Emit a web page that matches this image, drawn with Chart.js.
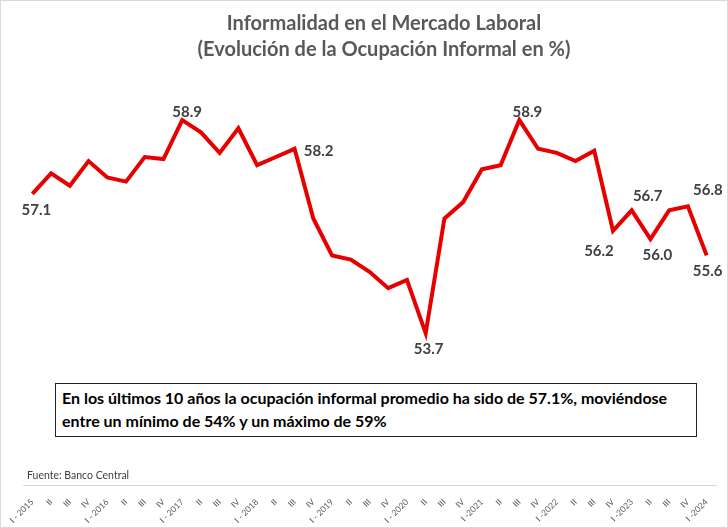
<!DOCTYPE html>
<html>
<head>
<meta charset="utf-8">
<script src="https://cdn.jsdelivr.net/npm/chart.js@4.4.1/dist/chart.umd.min.js"></script>
<style>
  html, body { margin: 0; padding: 0; background: #fff; }
  #wrap { position: relative; width: 728px; height: 528px; }
  canvas { position: absolute; left: 0; top: 0; }
  #title {
    position: absolute; left: 0; top: 9px; width: 768px; text-align: center;
    font-family: Lato, "Open Sans", sans-serif; font-weight: bold; font-size: 20px;
    color: #595959; line-height: 26px;
  }
  #note {
    position: absolute; left: 55px; top: 383px; width: 642px; height: 54px;
    box-sizing: border-box; border: 1px solid #222; background: #fff;
    font-family: Lato, "Open Sans", sans-serif; font-weight: bold; font-size: 16px;
    color: #000; padding: 2px 0 0 6px; line-height: 23px; white-space: nowrap;
  }
  #src {
    position: absolute; left: 27px; top: 469px;
    font-family: Lato, "Open Sans", sans-serif; font-size: 10.5px; color: #404040;
  }
</style>
</head>
<body>
<div id="wrap">
  <canvas id="c" width="728" height="528"></canvas>
  <div id="title">Informalidad en el Mercado Laboral<br>(Evolución de la Ocupación Informal en %)</div>
  <div id="note">En los últimos 10 años la ocupación informal promedio ha sido de 57.1%, moviéndose<br>entre un mínimo de 54% y un máximo de 59%</div>
  <div id="src">Fuente: Banco Central</div>
</div>
<script>
// ---- Data ----
const quarters = [
  "I - 2015","II","III","IV",
  "I - 2016","II","III","IV",
  "I - 2017","II","III","IV",
  "I - 2018","II","III","IV",
  "I - 2019","II","III","IV",
  "I - 2020","II","III","IV",
  "I -2021","II","III","IV",
  "I -2022","II","III","IV",
  "I -2023","II","III","IV",
  "I -2024"
];
const informalidad = [
  57.1, 57.6, 57.3, 57.9,
  57.5, 57.4, 58.0, 57.95,
  58.9, 58.6, 58.1, 58.7,
  57.8, 58.0, 58.2, 56.5,
  55.6, 55.5, 55.2, 54.8,
  55.0, 53.7, 56.5, 56.9,
  57.7, 57.8, 58.9, 58.2,
  58.1, 57.9, 58.15, 56.2,
  56.7, 56.0, 56.7, 56.8,
  55.6
];
const labeledPoints = [0, 8, 14, 21, 26, 31, 32, 33, 35, 36];

// label placement (pixel offsets from point), style only
const labelOffsets = {
  0: [4, 16], 8: [5, -8], 14: [24, 2], 21: [3, 16], 26: [8, -8],
  31: [-14, 20], 32: [16, -14], 33: [7, 16], 35: [20, -16], 36: [1, 16]
};

const framePlugin = {
  id: 'frame',
  beforeDraw(chart) {
    const ctx = chart.ctx;
    ctx.save();
    ctx.fillStyle = '#fff';
    ctx.fillRect(0, 0, chart.width, chart.height);
    ctx.strokeStyle = '#d9d9d9';
    ctx.lineWidth = 1;
    ctx.strokeRect(0.5, 0.5, chart.width - 1, chart.height - 1);
    ctx.restore();
  }
};

const valueLabels = {
  id: 'valueLabels',
  afterDatasetsDraw(chart) {
    const ctx = chart.ctx;
    const meta = chart.getDatasetMeta(0);
    ctx.save();
    ctx.font = 'bold 15px Lato, "Open Sans", sans-serif';
    ctx.fillStyle = '#404040';
    ctx.textAlign = 'center';
    ctx.textBaseline = 'middle';
    labeledPoints.forEach(i => {
      const p = meta.data[i];
      const off = labelOffsets[i] || [0, -12];
      ctx.fillText(informalidad[i].toFixed(1), p.x + off[0], p.y + off[1]);
    });
    ctx.restore();
  }
};

new Chart(document.getElementById('c'), {
  type: 'line',
  data: {
    labels: quarters,
    datasets: [{
      data: informalidad,
      borderColor: '#e60000',
      borderWidth: 4,
      pointRadius: 0,
      tension: 0,
      fill: false
    }]
  },
  options: {
    responsive: false,
    animation: false,
    layout: { padding: { left: 23, right: 12, top: 75, bottom: 3 } },
    plugins: {
      legend: { display: false },
      tooltip: { enabled: false },
      title: { display: false }
    },
    scales: {
      x: {
        offset: true,
        grid: { display: false },
        border: { display: true, color: '#d9d9d9', width: 1 },
        ticks: {
          autoSkip: false,
          maxRotation: 45, minRotation: 45,
          color: '#595959',
          padding: 4,
          font: { family: 'Lato, "Open Sans", sans-serif', size: 8.5 }
        },
        afterFit(s) { s.height = 40; s.paddingLeft = 0; s.paddingRight = 0; }
      },
      y: {
        display: false,
        min: 50, max: 60
      }
    }
  },
  plugins: [framePlugin, valueLabels]
});
</script>
</body>
</html>
